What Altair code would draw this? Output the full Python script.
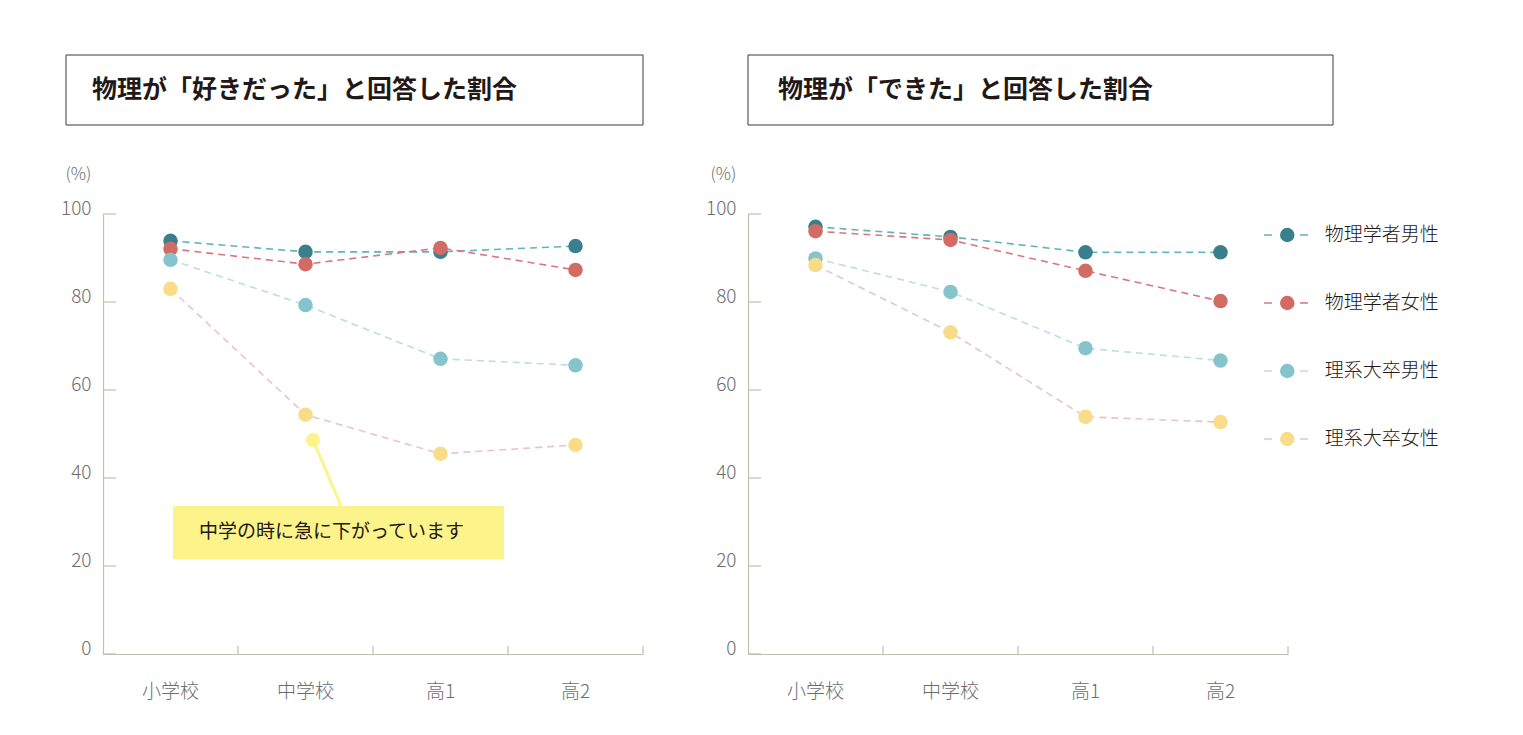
import altair as alt
import pandas as pd

# ---- data ----
stages = ["小学校", "中学校", "高1", "高2"]
series = ["物理学者男性", "物理学者女性", "理系大卒男性", "理系大卒女性"]

like_phys_m = [93.9, 91.4, 91.4, 92.7]
like_phys_f = [92.1, 88.6, 92.3, 87.3]
like_sci_m = [89.6, 79.3, 67.1, 65.6]
like_sci_f = [83.0, 54.4, 45.5, 47.5]

can_phys_m = [97.1, 94.8, 91.3, 91.3]
can_phys_f = [96.1, 94.1, 87.1, 80.2]
can_sci_m = [89.9, 82.3, 69.5, 66.7]
can_sci_f = [88.4, 73.1, 53.9, 52.7]

y_ticks = [0, 20, 40, 60, 80, 100]

title_like = "物理が「好きだった」と回答した割合"
title_can = "物理が「できた」と回答した割合"
note_text = "中学の時に急に下がっています"

dot_colors = ["#3a7f8d", "#d26b64", "#86c4cd", "#f8dc87"]
line_colors = ["#5fb3be", "#d97682", "#bcdde3", "#eac3ca"]

FONT = "Noto Sans CJK JP"
AXIS_COLOR = "#c0bfb1"
LABEL_COLOR = "#6d6d6d"
TEXT_COLOR = "#231815"
NOTE_YELLOW = "#fdf38b"

W, H = 540, 440


def make_df(vals):
    rows = []
    for s, arr in zip(series, vals):
        for i, (st, v) in enumerate(zip(stages, arr)):
            rows.append({"stage": st, "series": s, "series_f": s, "value": v, "i": i})
    return pd.DataFrame(rows)


one = pd.DataFrame({"k": [0]})

xscale = alt.Scale(type="band", domain=stages, paddingInner=0, paddingOuter=0)
yscale = alt.Scale(domain=[0, 100], nice=False)
x_axis = alt.Axis(title=None, labelAngle=0, labelFont=FONT, labelFontSize=19,
                  labelFontWeight=300, labelColor=LABEL_COLOR, ticks=False, tickSize=0,
                  domainColor=AXIS_COLOR, domainWidth=1.2, labelPadding=28,
                  labelBaseline="top", grid=False)
y_axis = alt.Axis(values=y_ticks, title="(%)", titleAngle=0, titleX=-25, titleY=-40,
                  titleAlign="center", titleBaseline="middle", titleFont=FONT,
                  titleFontSize=17, titleFontWeight=300, titleColor=LABEL_COLOR,
                  labelFont=FONT, labelFontSize=19, labelFontWeight=300,
                  labelColor=LABEL_COLOR, labelBaseline="alphabetic", labelPadding=12,
                  ticks=False, tickSize=0, domainColor=AXIS_COLOR, domainWidth=1.2,
                  grid=False)


def panel(vals, title, box_x, box_x2, title_x, legend, note):
    df = make_df(vals)

    if legend:
        stroke_legend = alt.Legend(
            orient="none", legendX=515, legendY=10, title=None, symbolType="stroke",
            symbolSize=1936, symbolDash=[8, 28], symbolStrokeWidth=1.6, clipHeight=22,
            rowPadding=46, labelExpr="' '", labelFont=FONT, labelFontSize=19,
            labelOffset=16)
        fill_legend = alt.Legend(
            orient="none", legendX=515, legendY=10, title=None, symbolType="circle",
            symbolSize=210, symbolOffset=14.75, symbolStrokeWidth=0, symbolOpacity=1,
            clipHeight=22, rowPadding=46, labelOffset=28, labelFont=FONT, labelFontSize=19,
            labelFontWeight=300, labelColor=TEXT_COLOR)
    else:
        stroke_legend = None
        fill_legend = None

    stroke_enc = alt.Stroke("series:N", sort=series, scale=alt.Scale(range=line_colors),
                            legend=stroke_legend)
    fill_enc = alt.Fill("series_f:N", sort=series, scale=alt.Scale(range=dot_colors),
                        legend=fill_legend)

    x = alt.X("stage:N", sort=stages, scale=xscale, axis=x_axis)
    y = alt.Y("value:Q", scale=yscale, axis=y_axis)

    lines = alt.Chart(df).mark_line(strokeDash=[7, 5], strokeWidth=1.6).encode(
        x=x, y=y, stroke=stroke_enc, order="i:Q")
    pts = alt.Chart(df).mark_circle(size=210, opacity=1, strokeWidth=0).encode(
        x=x, y=y, fill=fill_enc)

    box = alt.Chart(one).mark_rect(fill="white", stroke="#3a3a3a", strokeWidth=1).encode(
        x=alt.value(box_x), x2=alt.value(box_x2), y=alt.value(-159), y2=alt.value(-89))
    ttl = alt.Chart(one).mark_text(
        text=title, align="left", baseline="middle", font=FONT, fontSize=25,
        fontWeight="bold", color=TEXT_COLOR).encode(x=alt.value(title_x), y=alt.value(-124))

    yt = alt.Chart(pd.DataFrame({"value": y_ticks})).mark_rule(
        color=AXIS_COLOR, strokeWidth=1.2).encode(
        y=alt.Y("value:Q", scale=yscale, axis=y_axis), x=alt.value(0), x2=alt.value(13))
    xt = alt.Chart(pd.DataFrame({"stage": stages})).mark_rule(
        color=AXIS_COLOR, strokeWidth=1.2).encode(
        x=alt.X("stage:N", sort=stages, scale=xscale, bandPosition=1, axis=x_axis),
        y=alt.value(H - 8), y2=alt.value(H))

    layers = [lines, box, ttl, yt, xt, pts]

    if note:
        leader = alt.Chart(one).mark_rule(color=NOTE_YELLOW, strokeWidth=3).encode(
            x=alt.value(210), x2=alt.value(238), y=alt.value(226), y2=alt.value(292))
        ndot = alt.Chart(one).mark_circle(size=200, opacity=1, color=NOTE_YELLOW).encode(
            x=alt.value(210), y=alt.value(226))
        nbox = alt.Chart(one).mark_rect(fill=NOTE_YELLOW).encode(
            x=alt.value(70), x2=alt.value(401), y=alt.value(292), y2=alt.value(345))
        ntext = alt.Chart(one).mark_text(
            text=note_text, align="left", baseline="middle", font=FONT, fontSize=19,
            color=TEXT_COLOR).encode(x=alt.value(96), y=alt.value(318))
        layers += [leader, ndot, nbox, ntext]

    return alt.layer(*layers).properties(width=W, height=H)


left = panel([like_phys_m, like_phys_f, like_sci_m, like_sci_f], title_like,
             -37, 540, -11, legend=False, note=True)
right = panel([can_phys_m, can_phys_f, can_sci_m, can_sci_f], title_can,
              0, 585, 30, legend=True, note=False)

chart = (
    alt.hconcat(left, right, spacing=61)
    .resolve_scale(fill="independent", stroke="independent")
    .resolve_legend(fill="independent", stroke="independent")
    .properties(padding={"left": 52, "top": 46, "right": 10, "bottom": 10})
    .configure_view(stroke=None)
)

chart.save("out.html", embed_options={"renderer": "svg", "actions": False})
